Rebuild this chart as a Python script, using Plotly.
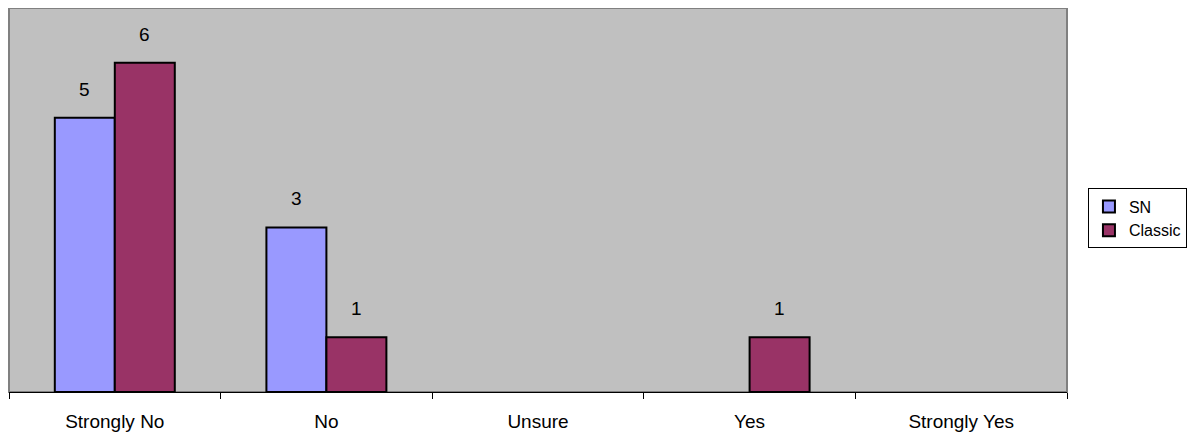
import plotly.graph_objects as go

categories = ["Strongly No", "No", "Unsure", "Yes", "Strongly Yes"]
sn_values = [5, 3, 0, 0, 0]
classic_values = [6, 1, 0, 1, 0]
series_names = ["SN", "Classic"]
y_max = 7

FONT = "Liberation Sans, Arial, sans-serif"
SN_COLOR = "#9999FF"
CLASSIC_COLOR = "#993366"


def hide_zero(vals):
    return [v if v > 0 else None for v in vals]


fig = go.Figure()
fig.add_trace(go.Bar(name=series_names[0], x=categories, y=hide_zero(sn_values),
                     marker=dict(color=SN_COLOR, line=dict(color="black", width=2))))
fig.add_trace(go.Bar(name=series_names[1], x=categories, y=hide_zero(classic_values),
                     marker=dict(color=CLASSIC_COLOR, line=dict(color="black", width=2))))

annotations = []
for vals, shift in ((sn_values, -30), (classic_values, 30)):
    for c, v in zip(categories, vals):
        if v > 0:
            annotations.append(dict(x=c, y=v, xref="x", yref="y", text=str(v),
                                    showarrow=False, xshift=shift, yshift=16,
                                    yanchor="bottom",
                                    font=dict(family=FONT, size=19, color="black")))

fig.update_layout(
    width=1199, height=438,
    margin=dict(l=1, r=140, t=0, b=54),
    paper_bgcolor="white",
    plot_bgcolor="#C0C0C0",
    barmode="group",
    bargap=0.433,
    bargroupgap=0,
    font=dict(family=FONT, size=19, color="black"),
    annotations=annotations,
    showlegend=True,
    legend=dict(x=1.0198, y=0.53, xanchor="left", yanchor="top",
                bgcolor="white", bordercolor="black", borderwidth=1,
                font=dict(family=FONT, size=16, color="black"),
                tracegroupgap=0, itemwidth=30),
    xaxis=dict(showgrid=False, ticks="outside", tickson="boundaries",
               ticklen=6, tickcolor="black", tickwidth=1,
               ticklabelstandoff=12,
               showline=True, linecolor="black", linewidth=1,
               tickfont=dict(family=FONT, size=19, color="black")),
    yaxis=dict(range=[0, y_max], showgrid=False, showticklabels=False,
               zeroline=False, showline=False, ticks=""),
    shapes=[dict(type="rect", xref="paper", yref="paper", x0=0, x1=1, y0=0, y1=1,
                 line=dict(color="#808080", width=2), layer="below")],
)

fig.write_html("out.html")
